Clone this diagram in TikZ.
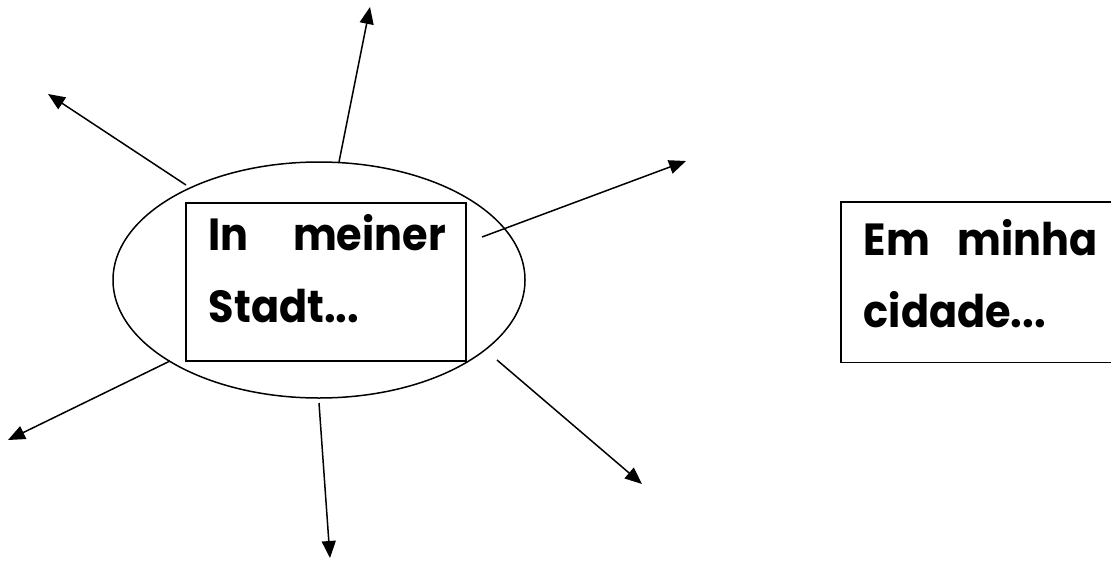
\documentclass[tikz,border=0pt]{standalone}
\usepackage{fontspec}
\setmainfont{Poppins}[BoldFont={* Bold}, BoldFeatures={FakeStretch=0.92}]
\usetikzlibrary{arrows.meta,shapes.geometric}
\begin{document}
\begin{tikzpicture}[x=1pt,y=-1pt,
  line width=1.5pt,
  ray/.style={-{Triangle[length=17pt,width=14pt]}},
  bigtext/.style={font=\bfseries\fontsize{45}{72}\selectfont, inner sep=0pt, align=left, anchor=base west}]
\useasboundingbox (0,0) rectangle (1111,563);
% ellipse and inner box
\node[draw, ellipse, minimum width=412pt, minimum height=236pt, inner sep=0pt] (ell) at (319,280) {};
\node[draw, minimum width=280pt, minimum height=158pt, inner sep=0pt] (lbox) at (326,282) {};
\node[bigtext, text width=237pt] (ltext) at (208,250) {In\hfill meiner\\Stadt...};
% right box (cut at the page edge)
\node[minimum width=270pt, minimum height=159pt, inner sep=0pt, anchor=north west] (rbox) at (841,202) {};
\draw (rbox.north east) -- (rbox.north west) -- (rbox.south west) -- (rbox.south east);
\node[bigtext, text width=234pt] (rtext) at (863,255) {Em\hfill minha\\cidade...};
% ray starts and tips
\coordinate (s1) at (339,162); \coordinate (t1) at (370,7);
\coordinate (s2) at (186,185); \coordinate (t2) at (48,94);
\coordinate (s3) at (482,237); \coordinate (t3) at (686,161);
\coordinate (s4) at (170,361); \coordinate (t4) at (8,440);
\coordinate (s5) at (319,403); \coordinate (t5) at (330,558);
\coordinate (s6) at (497,360); \coordinate (t6) at (642,484);
\foreach \i in {1,...,6} \draw[ray] (s\i) -- (t\i);
\end{tikzpicture}
\end{document}
